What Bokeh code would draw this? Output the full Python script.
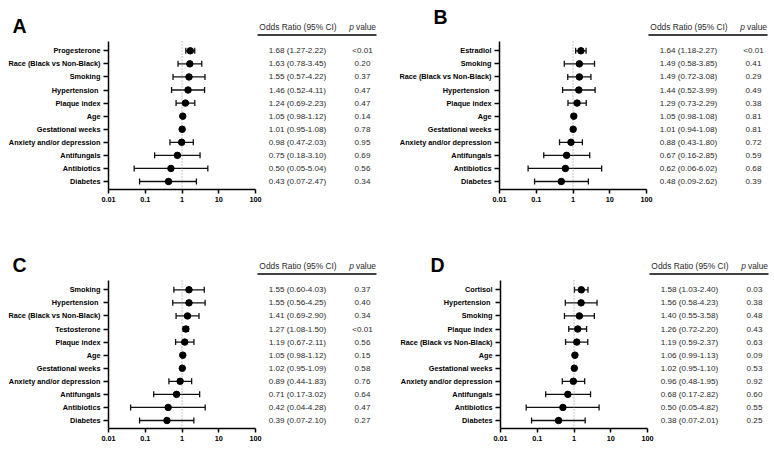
from bokeh.plotting import figure
from bokeh.models import Range1d, FixedTicker, Whisker, TeeHead, ColumnDataSource
from bokeh.layouts import column, row
from bokeh.embed import file_html
from bokeh.resources import INLINE
from bokeh.core.properties import value

# ---------------- data ----------------
labels_A = ["Progesterone", "Race (Black vs Non-Black)", "Smoking", "Hypertension ", "Plaque index", "Age",
            "Gestational weeks", "Anxiety and/or depression", "Antifungals", "Antibiotics", "Diabetes"]
or_A = [1.68, 1.63, 1.55, 1.46, 1.24, 1.05, 1.01, 0.98, 0.75, 0.50, 0.43]
lo_A = [1.27, 0.78, 0.57, 0.52, 0.69, 0.98, 0.95, 0.47, 0.18, 0.05, 0.07]
hi_A = [2.22, 3.45, 4.22, 4.11, 2.23, 1.12, 1.08, 2.03, 3.10, 5.04, 2.47]
p_A = ["<0.01", "0.20", "0.37", "0.47", "0.47", "0.14", "0.78", "0.95", "0.69", "0.56", "0.34"]

labels_B = ["Estradiol", "Smoking", "Race (Black vs Non-Black)", "Hypertension ", "Plaque index", "Age",
            "Gestational weeks", "Anxiety and/or depression", "Antifungals", "Antibiotics", "Diabetes"]
or_B = [1.64, 1.49, 1.49, 1.44, 1.29, 1.05, 1.01, 0.88, 0.67, 0.62, 0.48]
lo_B = [1.18, 0.58, 0.72, 0.52, 0.73, 0.98, 0.94, 0.43, 0.16, 0.06, 0.09]
hi_B = [2.27, 3.85, 3.08, 3.99, 2.29, 1.08, 1.08, 1.80, 2.85, 6.02, 2.62]
p_B = ["<0.01", "0.41", "0.29", "0.49", "0.38", "0.81", "0.81", "0.72", "0.59", "0.68", "0.39"]

labels_C = ["Smoking", "Hypertension ", "Race (Black vs Non-Black)", "Testosterone", "Plaque index", "Age",
            "Gestational weeks", "Anxiety and/or depression", "Antifungals", "Antibiotics", "Diabetes"]
or_C = [1.55, 1.55, 1.41, 1.27, 1.19, 1.05, 1.02, 0.89, 0.71, 0.42, 0.39]
lo_C = [0.60, 0.56, 0.69, 1.08, 0.67, 0.98, 0.95, 0.44, 0.17, 0.04, 0.07]
hi_C = [4.03, 4.25, 2.90, 1.50, 2.11, 1.12, 1.09, 1.83, 3.02, 4.28, 2.10]
p_C = ["0.37", "0.40", "0.34", "<0.01", "0.56", "0.15", "0.58", "0.76", "0.64", "0.47", "0.27"]

labels_D = ["Cortisol", "Hypertension ", "Smoking", "Plaque index", "Race (Black vs Non-Black)", "Age",
            "Gestational weeks", "Anxiety and/or depression", "Antifungals", "Antibiotics", "Diabetes"]
or_D = [1.58, 1.56, 1.40, 1.26, 1.19, 1.06, 1.02, 0.96, 0.68, 0.50, 0.38]
lo_D = [1.03, 0.58, 0.55, 0.72, 0.59, 0.99, 0.95, 0.48, 0.17, 0.05, 0.07]
hi_D = [2.40, 4.23, 3.58, 2.20, 2.37, 1.13, 1.10, 1.95, 2.82, 4.82, 2.01]
p_D = ["0.03", "0.38", "0.48", "0.43", "0.63", "0.09", "0.53", "0.92", "0.60", "0.55", "0.25"]

x_ticks = [0.01, 0.1, 1, 10, 100]
x_tick_labels = ["0.01", "0.1", "1", "10", "100"]
header_or = "Odds Ratio (95% CI)"
header_p = ["p", "value"]

# ---------------- layout constants (px) ----------------
DEC = 36.75      # px per decade on the x axis
ROW = 13.07      # px between rows
FRAME_H = 189    # frame height (x axis at its bottom)
ROW0 = 50.3      # y of first row from frame top
AXIS_TOP = 41    # y of top of y axis line
FONT = value("Liberation Sans")


def make_panel(letter, labels, ors, los, his, pvals, width, height, axis_x, letter_x, letter_y):
    n = len(labels)
    pos = list(range(n - 1, -1, -1))

    def py(yp):  # pixel from frame top -> data y
        return (n - 1) + (ROW0 - yp) / ROW

    y_top = py(0)
    y_bot = py(FRAME_H)
    x_start = x_ticks[0] / 10 ** (axis_x / DEC)
    x_end = x_ticks[0] * 10 ** ((width - axis_x) / DEC)

    p = figure(width=width, height=height, x_axis_type="log",
               x_range=Range1d(x_start, x_end), y_range=Range1d(y_bot, y_top),
               output_backend="svg", toolbar_location=None,
               min_border_left=0, min_border_right=0, min_border_top=0,
               min_border_bottom=height - FRAME_H)
    p.outline_line_color = None
    p.xgrid.visible = False
    p.ygrid.visible = False

    xa = p.xaxis[0]
    xa.ticker = FixedTicker(ticks=x_ticks)
    xa.major_label_overrides = dict(zip(x_ticks, x_tick_labels))
    xa.bounds = (x_ticks[0], x_ticks[-1])
    ya = p.yaxis[0]
    ya.fixed_location = x_ticks[0]
    ya.ticker = FixedTicker(ticks=pos)
    ya.major_label_overrides = dict(zip(pos, labels))
    ya.bounds = (y_bot, py(AXIS_TOP))
    for ax in (xa, ya):
        ax.axis_line_width = 1.5
        ax.axis_line_color = "black"
        ax.major_tick_line_width = 1.5
        ax.major_tick_line_color = "black"
        ax.major_tick_in = 0
        ax.minor_tick_line_color = None
        ax.major_label_text_font = "Liberation Sans"
        ax.major_label_text_font_style = "bold"
        ax.major_label_text_font_size = "7.3px"
        ax.major_label_text_color = "black"
    xa.major_tick_out = 4
    xa.major_label_standoff = 3
    ya.major_tick_out = 5
    ya.major_label_standoff = 3

    # reference line at OR = 1
    p.segment(x0=[1], x1=[1], y0=[y_bot], y1=[py(AXIS_TOP)], line_color="#888888",
              line_width=1, line_dash="1 2")

    src = ColumnDataSource(dict(
        y=pos, orv=ors, lo=los, hi=his,
        ortext=[f"{o:.2f} ({l:.2f}-{h:.2f})" for o, l, h in zip(ors, los, his)],
        ptext=pvals, xa=[x_ticks[-1]] * n))

    head = dict(size=6, line_width=1.3, line_color="#111111")
    p.add_layout(Whisker(source=src, base="y", lower="lo", upper="hi", dimension="width",
                         line_color="#111111", line_width=1.3,
                         upper_head=TeeHead(**head), lower_head=TeeHead(**head)))
    p.scatter(x="orv", y="y", source=src, size=6.5, color="black")

    # table
    tstyle = dict(text_baseline="middle", text_font=FONT, text_color="#2a2a2a")
    p.text(x="xa", y="y", text="ortext", source=src, x_offset=42, text_align="center",
           text_font_size="8.1px", **tstyle)
    p.text(x="xa", y="y", text="ptext", source=src, x_offset=107, text_align="center",
           text_font_size="8.1px", **tstyle)
    hy = py(26.3)
    p.text(x=[x_ticks[-1]], y=[hy], text=[header_or], x_offset=42.5, text_align="center",
           text_font_size="8.4px", **tstyle)
    p.text(x=[x_ticks[-1]], y=[hy], text=[header_p[0]], x_offset=98.5, text_align="right",
           text_font_size="8.4px", text_font_style="italic", **tstyle)
    p.text(x=[x_ticks[-1]], y=[hy], text=[header_p[1]], x_offset=100.5, text_align="left",
           text_font_size="8.4px", **tstyle)
    ly = py(34.5)
    p.segment(x0=[x_ticks[-1] * 10 ** (2 / DEC)], x1=[x_ticks[-1] * 10 ** (121 / DEC)],
              y0=[ly], y1=[ly], line_color="black", line_width=1.5)

    # panel letter
    p.text(x=[x_ticks[0]], y=[py(letter_y)], text=[letter], x_offset=letter_x - axis_x,
           text_align="left", text_baseline="middle", text_font=FONT,
           text_font_style="bold", text_font_size="19.5px", text_color="black")
    return p


pA = make_panel("A", labels_A, or_A, lo_A, hi_A, p_A, 399, 239, 108, 12, 25)
pB = make_panel("B", labels_B, or_B, lo_B, hi_B, p_B, 375, 239, 100, 34, 16)
pC = make_panel("C", labels_C, or_C, lo_C, hi_C, p_C, 399, 211, 108, 12, 25.5)
pD = make_panel("D", labels_D, or_D, lo_D, hi_D, p_D, 375, 211, 101, 31, 25.5)

layout = column(row(pA, pB, spacing=0), row(pC, pD, spacing=0), spacing=0)
open("out.html", "w").write(file_html(layout, INLINE))
